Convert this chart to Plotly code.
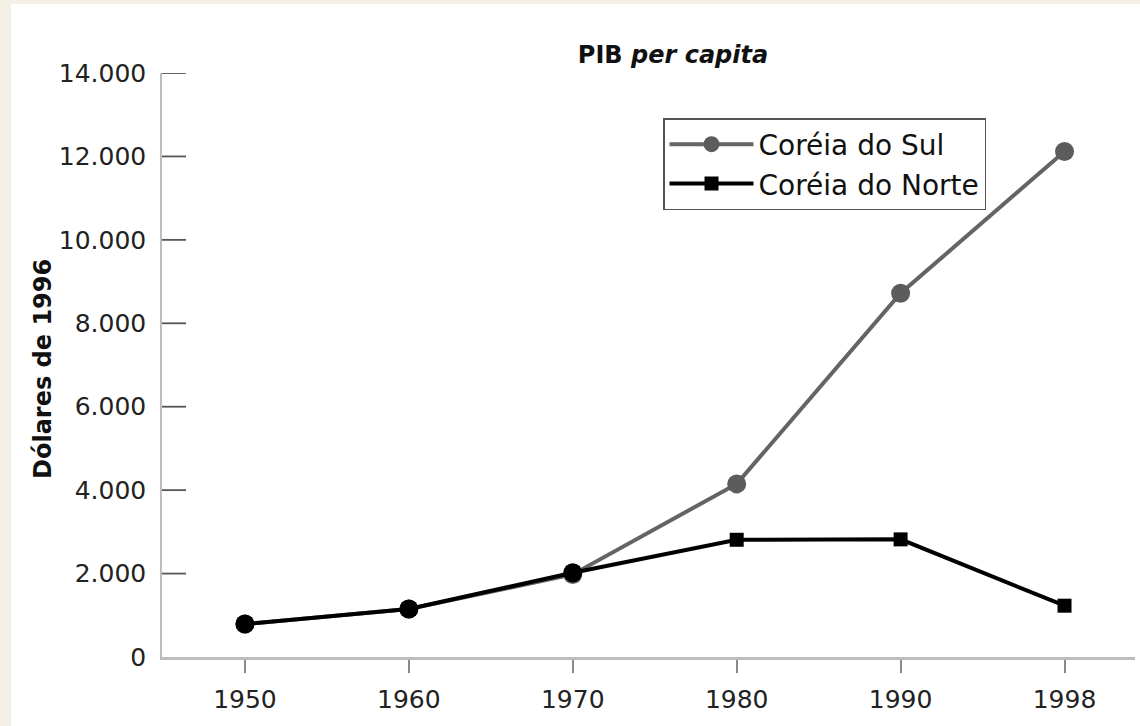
import plotly.graph_objects as go

years = ["1950", "1960", "1970", "1980", "1990", "1998"]
coreia_sul = [790, 1150, 1980, 4150, 8720, 12120]
coreia_norte = [790, 1150, 2020, 2810, 2820, 1230]
y_ticks = [0, 2000, 4000, 6000, 8000, 10000, 12000, 14000]
overlap_n = 3  # first points where both series coincide (drawn as black circles)

W, H = 1140, 726
L, R, T, B = 162, 5, 73, 69
pw = W - L - R
ph = H - T - B

def px(xp):
    return (xp - L) / pw

def py(yp):
    return (H - B - yp) / ph

fig = go.Figure()
fig.add_trace(go.Scatter(
    x=years, y=coreia_sul, name="Coréia do Sul", mode="lines+markers",
    line=dict(color="#646464", width=4),
    marker=dict(symbol="circle", size=19, color="#5c5c5c"),
))
fig.add_trace(go.Scatter(
    x=years, y=coreia_norte, name="Coréia do Norte", mode="lines+markers",
    line=dict(color="#000000", width=4),
    marker=dict(symbol="square", size=14, color="#000000"),
))
fig.add_trace(go.Scatter(
    x=years[:overlap_n], y=coreia_norte[:overlap_n], mode="markers",
    marker=dict(symbol="circle", size=19, color="#000000"),
    showlegend=False, hoverinfo="skip",
))

beige = "#f4f0e6"
shapes = [
    dict(type="rect", xref="paper", yref="paper", x0=px(-5), x1=px(11), y0=py(-5), y1=py(H + 5),
         fillcolor=beige, line=dict(width=0), layer="above"),
    dict(type="rect", xref="paper", yref="paper", x0=px(-5), x1=px(W + 5), y0=py(-5), y1=py(4),
         fillcolor=beige, line=dict(width=0), layer="above"),
]
# inward-pointing y-axis tick marks
for v in y_ticks[1:]:
    shapes.append(dict(type="line", xref="paper", yref="y", x0=0, x1=px(186), y0=v, y1=v,
                       line=dict(color="#555", width=1.8), layer="above"))

fig.update_layout(
    width=W, height=H,
    margin=dict(l=L, r=R, t=T, b=B),
    paper_bgcolor="white", plot_bgcolor="white",
    separators=",.",
    font=dict(family="DejaVu Sans", color="#1a1a1a"),
    title=dict(text="<b>PIB <i>per capita</i></b>", x=px(673), xref="paper", xanchor="center",
               y=1 - 55 / H, yanchor="middle", font=dict(size=24, color="#111")),
    xaxis=dict(type="category", range=[-0.506, 5.43], showgrid=False, zeroline=False,
               showline=True, linecolor="#bdbdbd", linewidth=2.5,
               ticks="outside", ticklen=13, tickwidth=1.5, tickcolor="#8a8a8a",
               tickfont=dict(size=25, color="#222"), ticklabelstandoff=5),
    yaxis=dict(range=[0, 14000], tickvals=y_ticks, tickformat=",d", showgrid=False, zeroline=False,
               showline=True, linecolor="#bdbdbd", linewidth=1.5,
               ticks="", tickfont=dict(size=25, color="#222"), ticklabelstandoff=9),
    showlegend=True,
    legend=dict(x=px(663), y=py(118), xanchor="left", yanchor="top",
                bordercolor="#555", borderwidth=1.5, bgcolor="white",
                font=dict(size=28, color="#111"), itemwidth=84, tracegroupgap=0),
    annotations=[dict(text="<b>Dólares de 1996</b>", x=px(43), y=py(369), xref="paper", yref="paper",
                      textangle=-90, showarrow=False, xanchor="center", yanchor="middle",
                      font=dict(size=24, color="#111"))],
    shapes=shapes,
)

fig.write_html("out.html", config={"displayModeBar": False},
               post_script="document.body.style.margin='0';document.body.style.overflow='hidden';")
